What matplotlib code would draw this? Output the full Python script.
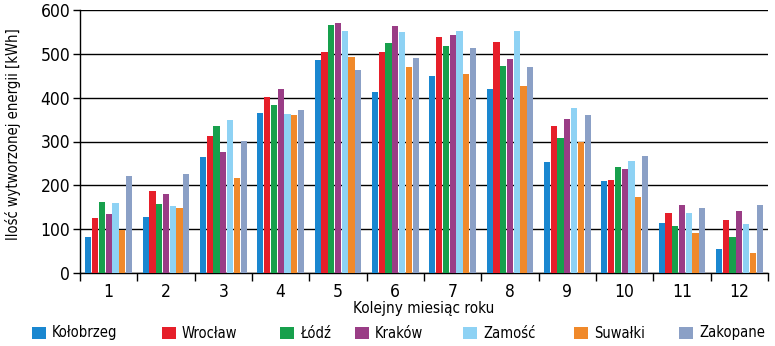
import numpy as np
import matplotlib.pyplot as plt
from matplotlib.patches import Rectangle

plt.rcParams['font.family'] = ['Liberation Sans Narrow', 'DejaVu Sans']
plt.rcParams['font.stretch'] = 'condensed'

months = list(range(1, 13))
cities = ['Kołobrzeg', 'Wrocław', 'Łódź', 'Kraków', 'Zamość', 'Suwałki', 'Zakopane']
colors = ['#1a87d0', '#e61f2a', '#17a04c', '#9a3d86', '#8ed2f4', '#f0892a', '#8ba0c6']

kolobrzeg = [83, 127, 264, 366, 486, 413, 449, 420, 254, 209, 113, 55]
wroclaw = [125, 187, 312, 401, 504, 504, 538, 526, 336, 212, 136, 121]
lodz = [161, 158, 335, 384, 565, 525, 518, 472, 309, 242, 107, 81]
krakow = [134, 180, 275, 419, 570, 563, 543, 489, 351, 238, 156, 142]
zamosc = [159, 152, 349, 362, 552, 550, 552, 552, 376, 255, 138, 111]
suwalki = [99, 148, 216, 360, 493, 469, 453, 426, 300, 173, 91, 46]
zakopane = [221, 225, 302, 372, 462, 490, 513, 470, 360, 266, 148, 156]
series = [kolobrzeg, wroclaw, lodz, krakow, zamosc, suwalki, zakopane]

fig = plt.figure(figsize=(7.75, 3.46), dpi=100)
ax = fig.add_axes([80/775, 1-273/346, 688/775, 263/346])

x = np.array(months)
w = 0.118
for i, (vals, c) in enumerate(zip(series, colors)):
    ax.bar(x + (i - 3) * w, vals, width=w*0.92, color=c, linewidth=0, zorder=3)

ax.set_xlim(0.5, 12.5)
ax.set_ylim(0, 600)
ax.set_yticks(range(0, 601, 100))
ax.yaxis.grid(True, color='black', linewidth=1.0, zorder=1)
ax.set_xticks(np.arange(0.5, 13, 1))
ax.set_xticklabels([])
ax.set_xticks(months, minor=True)
ax.set_xticklabels([str(m) for m in months], minor=True)
ax.tick_params(axis='x', which='major', length=6, width=1, color='black', direction='out')
ax.tick_params(axis='x', which='minor', length=0, labelsize=12.5, pad=7)
ax.tick_params(axis='y', length=5, width=1, labelsize=12.5, pad=2)
for s in ['top', 'right']:
    ax.spines[s].set_visible(False)
for s in ['left', 'bottom']:
    ax.spines[s].set_color('black')
    ax.spines[s].set_linewidth(1.0)

ax.set_xlabel('Kolejny miesiąc roku', fontsize=11, labelpad=0)
fig.text(13/775, 1-134/346, 'Ilość wytworzonej energii [kWh]', rotation=90,
         ha='center', va='center', fontsize=10.5)

# legend along the bottom
leg_x = [32, 162, 280, 355, 463, 574, 679]
for lx, name, c in zip(leg_x, cities, colors):
    fig.patches.append(Rectangle((lx/775, 1-339/346), 13.5/775, 12.5/346,
                                 transform=fig.transFigure, color=c, linewidth=0))
    fig.text((lx+20)/775, 1-333/346, name, ha='left', va='center', fontsize=10.5)

fig.savefig('out.png', dpi=100)
